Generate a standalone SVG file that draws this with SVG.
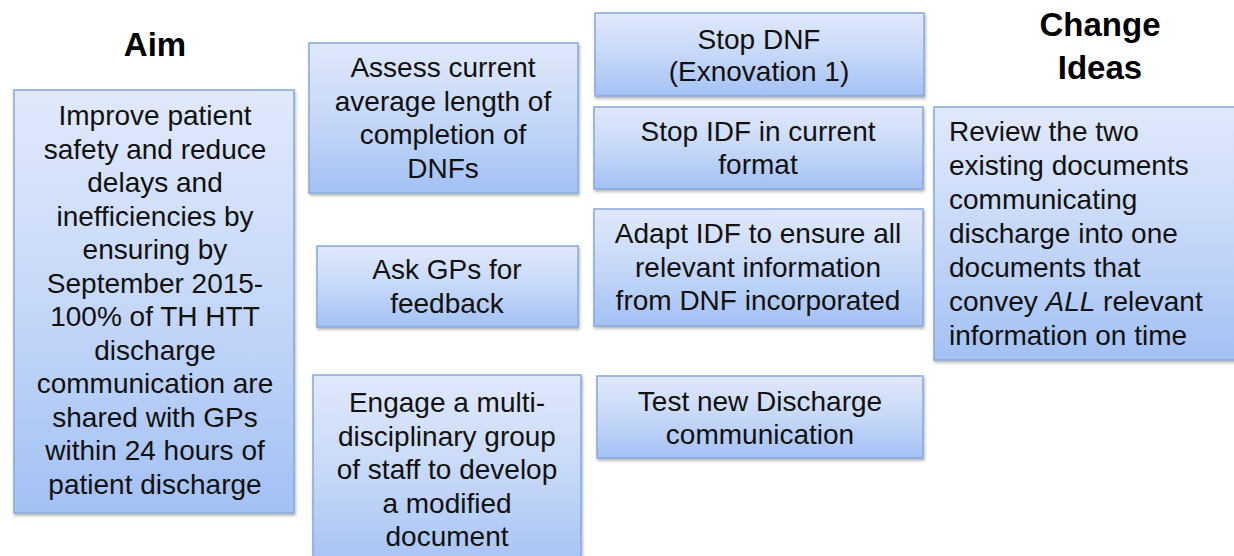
<svg xmlns="http://www.w3.org/2000/svg" width="1234" height="556" viewBox="0 0 1234 556">
<defs>
<linearGradient id="g" x1="0" y1="0" x2="0" y2="1">
<stop offset="0" stop-color="#e1e9fb"/>
<stop offset="0.5" stop-color="#c6d8f8"/>
<stop offset="1" stop-color="#a3c1f4"/>
</linearGradient>
<filter id="sh" x="-5%" y="-5%" width="110%" height="115%">
<feDropShadow dx="1" dy="2" stdDeviation="1.5" flood-color="#000" flood-opacity="0.3"/>
</filter>
</defs>
<style>
.box{fill:url(#g);stroke:#85a8dc;stroke-width:1.5;filter:url(#sh)}
.t{font-family:"Liberation Sans",Arial,sans-serif;font-size:28px;fill:#111;text-anchor:middle}
.l{text-anchor:start}
.h{font-family:"Liberation Sans",Arial,sans-serif;font-size:33px;font-weight:bold;fill:#000;text-anchor:middle}
</style>
<rect width="1234" height="556" fill="#fff"/>
<g id="title-aim"><text class="h" x="155" y="56">Aim</text></g>
<g id="title-change"><text class="h" x="1100" y="36">Change</text><text class="h" x="1100" y="79">Ideas</text></g>
<g id="aim">
<rect class="box" x="14" y="90" width="280" height="423"/>
<text class="t" x="155" y="125">Improve patient</text>
<text class="t" x="155" y="158.5">safety and reduce</text>
<text class="t" x="155" y="192">delays and</text>
<text class="t" x="155" y="225.5">inefficiencies by</text>
<text class="t" x="155" y="259">ensuring by</text>
<text class="t" x="155" y="292.5">September 2015-</text>
<text class="t" x="155" y="326">100% of TH HTT</text>
<text class="t" x="155" y="359.5">discharge</text>
<text class="t" x="155" y="393">communication are</text>
<text class="t" x="155" y="426.5">shared with GPs</text>
<text class="t" x="155" y="460">within 24 hours of</text>
<text class="t" x="155" y="493.5">patient discharge</text>
</g>
<g id="assess">
<rect class="box" x="309" y="43" width="269" height="150"/>
<text class="t" x="443" y="77">Assess current</text>
<text class="t" x="443" y="110.5">average length of</text>
<text class="t" x="443" y="144">completion of</text>
<text class="t" x="443" y="177.5">DNFs</text>
</g>
<g id="ask">
<rect class="box" x="317" y="246" width="261" height="81"/>
<text class="t" x="447" y="279">Ask GPs for</text>
<text class="t" x="447" y="312.5">feedback</text>
</g>
<g id="engage">
<rect class="box" x="313" y="375" width="268" height="200"/>
<text class="t" x="447" y="412">Engage a multi-</text>
<text class="t" x="447" y="445.5">disciplinary group</text>
<text class="t" x="447" y="479">of staff to develop</text>
<text class="t" x="447" y="512.5">a modified</text>
<text class="t" x="447" y="546">document</text>
</g>
<g id="stopdnf">
<rect class="box" x="595" y="13" width="329" height="83"/>
<text class="t" x="759" y="49">Stop DNF</text>
<text class="t" x="759" y="81">(Exnovation 1)</text>
</g>
<g id="stopidf">
<rect class="box" x="594" y="107" width="329" height="82"/>
<text class="t" x="758" y="141">Stop IDF in current</text>
<text class="t" x="758" y="174">format</text>
</g>
<g id="adapt">
<rect class="box" x="594" y="209" width="329" height="117"/>
<text class="t" x="758" y="243">Adapt IDF to ensure all</text>
<text class="t" x="758" y="276.5">relevant information</text>
<text class="t" x="758" y="310">from DNF incorporated</text>
</g>
<g id="test">
<rect class="box" x="597" y="376" width="326" height="82"/>
<text class="t" x="760" y="411">Test new Discharge</text>
<text class="t" x="760" y="444">communication</text>
</g>
<g id="review">
<rect class="box" x="934" y="107" width="310" height="253"/>
<text class="t l" x="949" y="141">Review the two</text>
<text class="t l" x="949" y="175">existing documents</text>
<text class="t l" x="949" y="209">communicating</text>
<text class="t l" x="949" y="243">discharge into one</text>
<text class="t l" x="949" y="277">documents that</text>
<text class="t l" x="949" y="311">convey <tspan font-style="italic">ALL</tspan> relevant</text>
<text class="t l" x="949" y="345">information on time</text>
</g>
<g id="connectors"></g>
</svg>
